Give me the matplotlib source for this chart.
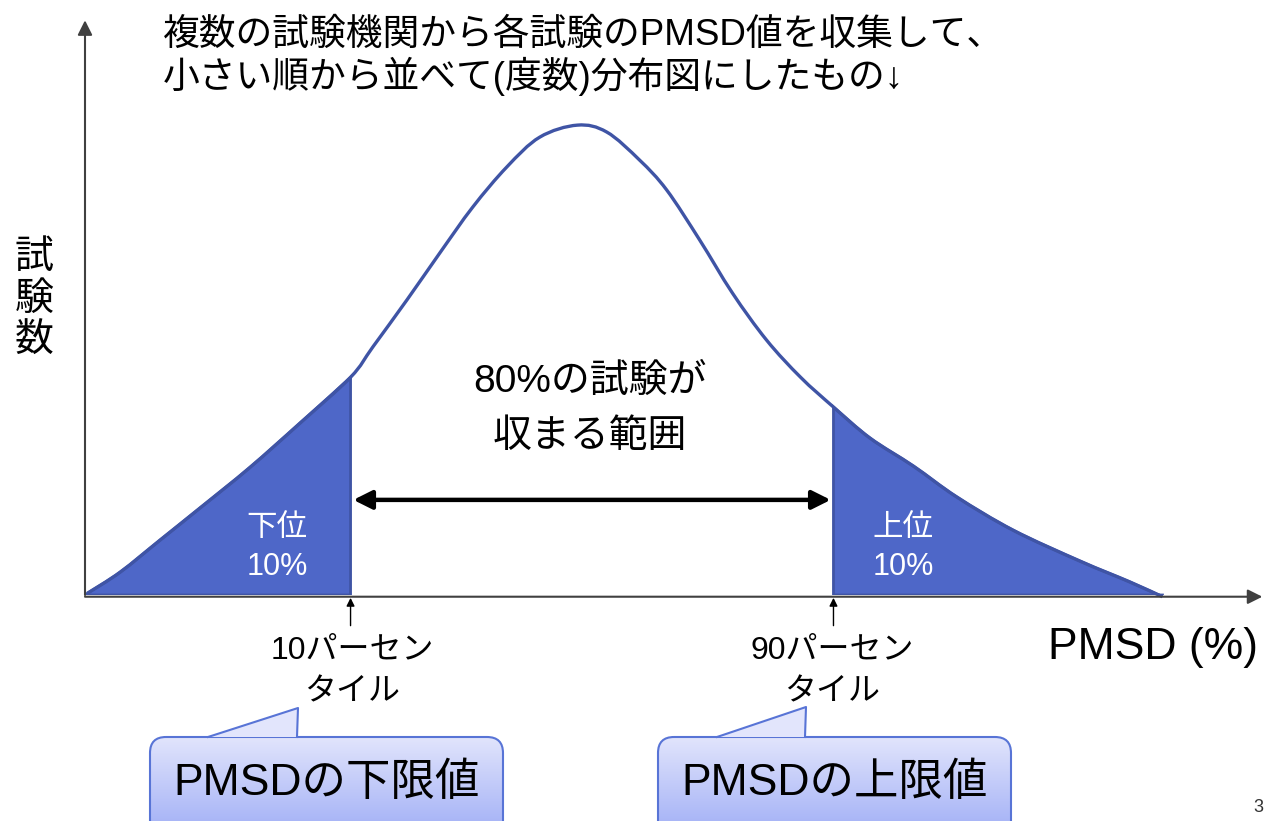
import numpy as np
import matplotlib
matplotlib.use("Agg")
import matplotlib.pyplot as plt
from matplotlib.patches import FancyBboxPatch, Polygon, PathPatch
from matplotlib.path import Path
from matplotlib.lines import Line2D

# ---- data (arbitrary PMSD units vs. number of tests) ----
pmsd = [0.2, 3.0, 6.4, 9.8, 14.0, 18.3, 22.6, 24.5, 27.4, 30.2, 33.0, 35.9, 38.7,
        41.9, 44.4, 47.2, 49.5, 52.3, 55.1, 58.0, 60.9, 63.7, 66.8,
        70.5, 74.2, 79.0, 84.7, 88.9, 91.7]
tests = [0.3, 4.0, 9.6, 15.2, 22.2, 30.0, 38.0, 43.3, 51.5, 59.7, 67.7, 74.7, 79.9,
         82.0, 80.8, 75.9, 70.7, 62.0, 52.7, 44.5, 38.0, 32.8, 27.4,
         22.5, 17.1, 11.3, 5.9, 2.3, -0.3]
p10 = 22.6
p90 = 63.7
tail_labels = ["下位\n10%", "上位\n10%"]
pct_labels = ["10パーセン\nタイル", "90パーセン\nタイル"]
callout_labels = ["PMSDの下限値", "PMSDの上限値"]
title_lines = ["複数の試験機関から各試験のPMSD値を収集して、",
               "小さい順から並べて(度数)分布図にしたもの↓"]
ylabel_chars = ["試", "験", "数"]
xlabel = "PMSD (%)"
range_text = ["80%の試験が", "収まる範囲"]

FONT = ["Liberation Sans", "Noto Sans CJK JP", "DejaVu Sans"]
plt.rcParams["font.family"] = FONT

W, H = 1264, 821
fig = plt.figure(figsize=(W / 100, H / 100), dpi=100)
fig.patch.set_facecolor("white")

# main axes (x: 0..100 spans px 85..1260, y: 0..100 spans px 595..22)
ax = fig.add_axes([85 / W, (H - 595) / H, 1175 / W, 573 / H])
ax.set_xlim(0, 100)
ax.set_ylim(0, 100)
ax.axis("off")

x = np.array(pmsd, dtype=float)
y = np.array(tests, dtype=float)
pts = np.column_stack([x, y])


def smooth_segments(p):
    """Bezier (Catmull-Rom) path verts/codes passing through every point of p."""
    verts = [p[0]]
    codes = [Path.MOVETO]
    n = len(p)
    for i in range(n - 1):
        pm = p[i - 1] if i > 0 else p[i]
        pp = p[i + 2] if i + 2 < n else p[i + 1]
        c1 = p[i] + (p[i + 1] - pm) / 6.0
        c2 = p[i + 1] - (pp - p[i]) / 6.0
        verts += [c1, c2, p[i + 1]]
        codes += [Path.CURVE4] * 3
    return verts, codes


fill_c = "#4E67C8"
edge_c = "#3F54A5"

i10 = int(np.argmin(np.abs(x - p10)))
i90 = int(np.argmin(np.abs(x - p90)))

# lower tail
v, c = smooth_segments(pts[: i10 + 1])
v += [(p10, 0), (x[0], 0), (0, 0)]
c += [Path.LINETO, Path.LINETO, Path.CLOSEPOLY]
ax.add_patch(PathPatch(Path(v, c), facecolor=fill_c, edgecolor=edge_c, lw=2, zorder=2))
# upper tail
v, c = smooth_segments(pts[i90:])
v += [(x[-1], 0), (p90, 0), (0, 0)]
c += [Path.LINETO, Path.LINETO, Path.CLOSEPOLY]
ax.add_patch(PathPatch(Path(v, c), facecolor=fill_c, edgecolor=edge_c, lw=2, zorder=2))
# full curve
v, c = smooth_segments(pts)
ax.add_patch(PathPatch(Path(v, c), facecolor="none", edgecolor=edge_c, lw=2.4,
                       zorder=3, clip_on=False))

# axes arrows
ax.annotate("", xy=(0, 100.3), xytext=(0, 0), xycoords="data",
            arrowprops=dict(arrowstyle="-|>", color="#404040", lw=1.5,
                            mutation_scale=22, shrinkA=0, shrinkB=0,
                            facecolor="black"), annotation_clip=False, zorder=4)
ax.annotate("", xy=(100.2, -0.3), xytext=(0, -0.3), xycoords="data",
            arrowprops=dict(arrowstyle="-|>", color="#404040", lw=1.5,
                            mutation_scale=22, shrinkA=0, shrinkB=0,
                            facecolor="black"), annotation_clip=False, zorder=4)

# double arrow for 80 % range
ax.annotate("", xy=(p90, 16.6), xytext=(p10, 16.6),
            arrowprops=dict(arrowstyle="<|-|>", color="black", lw=3.2,
                            mutation_scale=28, shrinkA=2, shrinkB=2),
            annotation_clip=False, zorder=4)

# percentile small arrows
for p in (p10, p90):
    ax.annotate("", xy=(p, -0.5), xycoords="data",
                xytext=(0, -20), textcoords="offset points",
                arrowprops=dict(arrowstyle="-|>", color="black", lw=1.0,
                                mutation_scale=12, shrinkA=0, shrinkB=0),
                annotation_clip=False, zorder=4)

# overlay axes in pixel coordinates for texts and callouts
ov = fig.add_axes([0, 0, 1, 1])
ov.set_xlim(0, W)
ov.set_ylim(H, 0)
ov.axis("off")

# title
ov.text(163, 35, title_lines[0], fontsize=26.5, ha="left", va="center")
ov.text(163, 76, title_lines[1], fontsize=26.5, ha="left", va="center")

# y label stacked
for i, ch in enumerate(ylabel_chars):
    ov.text(34, 258 + 42 * i, ch, fontsize=28, ha="center", va="center")

# x label
ov.text(1153, 648, xlabel, fontsize=32, ha="center", va="center")

# range text
ov.text(590, 382, range_text[0], fontsize=28, ha="center", va="center")
ov.text(590, 437, range_text[1], fontsize=28, ha="center", va="center")

# tail labels
for cx, lab in zip((277, 903), tail_labels):
    l1, l2 = lab.split("\n")
    ov.text(cx, 528, l1, fontsize=22, color="white", ha="center", va="center")
    ov.text(cx, 567, l2, fontsize=22, color="white", ha="center", va="center")

# percentile labels
for cx, lab in zip((352, 832), pct_labels):
    l1, l2 = lab.split("\n")
    ov.text(cx, 650, l1, fontsize=23, ha="center", va="center")
    ov.text(cx, 692, l2, fontsize=23, ha="center", va="center")

# callouts
top_c = np.array([226, 229, 252]) / 255
bot_c = np.array([150, 166, 245]) / 255
grad = np.linspace(0, 1, 200)[:, None]
img = (top_c[None, None, :] * (1 - grad[:, :, None]) + bot_c[None, None, :] * grad[:, :, None])
img = np.repeat(img, 2, axis=1)
border = "#5874D6"

callouts = [
    dict(x0=150, x1=503, tail=[(208, 737), (298, 708), (297, 737)], label=callout_labels[0]),
    dict(x0=658, x1=1011, tail=[(717, 737), (806, 707), (805, 737)], label=callout_labels[1]),
]
for cfg in callouts:
    y0, y1 = 737, 850
    box = FancyBboxPatch((cfg["x0"], y0), cfg["x1"] - cfg["x0"], y1 - y0,
                         boxstyle="round,pad=0,rounding_size=16",
                         facecolor="none", edgecolor=border, lw=1.5, zorder=5)
    ov.add_patch(box)
    im = ov.imshow(img, extent=(cfg["x0"], cfg["x1"], y1, y0), origin="upper",
                   aspect="auto", zorder=4)
    im.set_clip_path(box)
    tri = Polygon(cfg["tail"], closed=True, facecolor=top_c, edgecolor="none", zorder=6)
    ov.add_patch(tri)
    (a, b, d) = cfg["tail"]
    ov.add_line(Line2D([a[0], b[0], d[0]], [a[1], b[1], d[1]], color=border, lw=1.5, zorder=7))
    ov.text((cfg["x0"] + cfg["x1"]) / 2, 783, cfg["label"], fontsize=32, ha="center",
            va="center", zorder=8)

ov.set_xlim(0, W)
ov.set_ylim(H, 0)

# page number fragment at the edge
ov.text(1263, 808, "3", fontsize=13, ha="right", va="center", color="#333333")

fig.savefig("out.png", dpi=100, facecolor="white")
